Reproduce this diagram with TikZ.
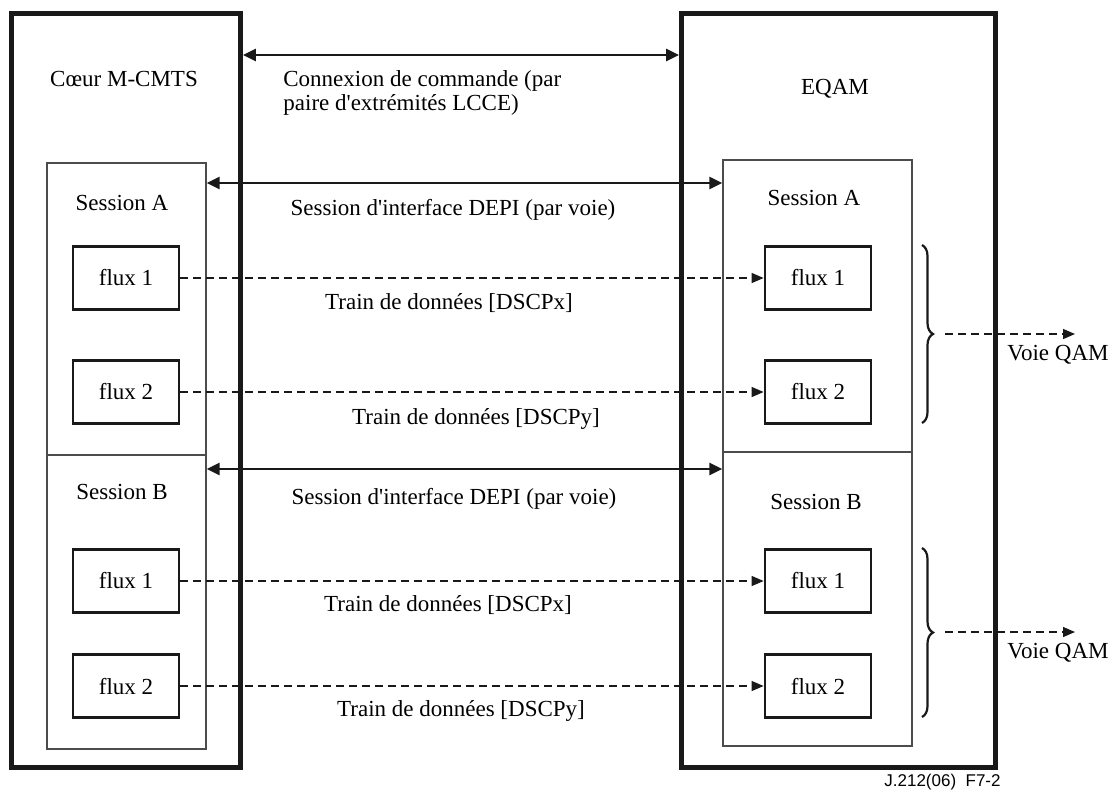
\documentclass[tikz,border=0pt]{standalone}
\usepackage{fontspec}
\setmainfont{Liberation Serif}[Ligatures=TeXOff]
\newfontfamily\figsans{Liberation Sans}
\usetikzlibrary{arrows.meta,decorations.pathreplacing}
\begin{document}
\begin{tikzpicture}[x=0.5pt,y=-0.5pt,
  outerbox/.style={draw=black!90, line width=2.4pt, inner sep=0pt},
  sessbox/.style={draw=black!70, line width=0.7pt, inner sep=0pt},
  fluxbox/.style={draw=black!90, line width=1.4pt, inner sep=0pt, minimum width=53pt, minimum height=31.5pt, font=\fontsize{11.5}{13}\selectfont},
  lbl/.style={inner sep=0pt, font=\fontsize{11.5}{13}\selectfont},
  sarrow/.style={{Triangle[length=6.5pt,width=6pt]}-{Triangle[length=6.5pt,width=6pt]}, line width=1.4pt, draw=black!90},
  darrow/.style={-{Triangle[length=6pt,width=5pt]}, line width=0.7pt, dash pattern=on 4pt off 2.5pt, draw=black!90},
  bracestyle/.style={decorate, decoration={brace, amplitude=5.5pt}, line width=1.1pt, draw=black!90}]
\useasboundingbox (0,0) rectangle (1114,789);

% outer boxes
\node[outerbox, minimum width=114.5pt, minimum height=377pt] (Lout) at (126,390.5) {};
\node[outerbox, minimum width=157pt, minimum height=377pt] (Rout) at (838.5,390.5) {};

% session boxes
\node[sessbox, minimum width=79.5pt, minimum height=146pt] (LsA) at (126.5,309) {};
\node[sessbox, minimum width=79.5pt, minimum height=147pt] (LsB) at (126.5,602) {};
\node[sessbox, minimum width=94.5pt, minimum height=146pt] (RsA) at (817.5,306) {};
\node[sessbox, minimum width=94.5pt, minimum height=147pt] (RsB) at (817.5,599) {};

% titles
\node[lbl, anchor=base] (tcore) at (124,86) {Cœur M-CMTS};
\node[lbl, anchor=base] (teqam) at (835,94) {EQAM};
\node[lbl, anchor=base] (tLsA) at (122,210) {Session A};
\node[lbl, anchor=base] (tRsA) at (814,205) {Session A};
\node[lbl, anchor=base] (tLsB) at (122,499) {Session B};
\node[lbl, anchor=base] (tRsB) at (816,509) {Session B};

% flux boxes
\node[fluxbox] (L1A) at (126,278) {flux 1};
\node[fluxbox] (L2A) at (126,392) {flux 2};
\node[fluxbox] (L1B) at (126,581) {flux 1};
\node[fluxbox] (L2B) at (126,686) {flux 2};
\node[fluxbox] (R1A) at (818,278) {flux 1};
\node[fluxbox] (R2A) at (818,392) {flux 2};
\node[fluxbox] (R1B) at (818,581) {flux 1};
\node[fluxbox] (R2B) at (818,686) {flux 2};

% solid double arrows
\coordinate (yc) at (0,55);
\coordinate (ya) at (0,183);
\coordinate (yb) at (0,469);
\draw[sarrow] (Lout.east |- yc) -- (Rout.west |- yc);
\draw[sarrow] (LsA.east |- ya) -- (RsA.west |- ya);
\draw[sarrow] (LsB.east |- yb) -- (RsB.west |- yb);

\node[lbl, anchor=north west, align=left] (tcmd) at (283,70) {Connexion de commande (par\\[-1pt]paire d'extrémités LCCE)};
\node[lbl, anchor=base] (tdepiA) at (453,215) {Session d'interface DEPI (par voie)};
\node[lbl, anchor=base] (tdepiB) at (454,504) {Session d'interface DEPI (par voie)};

% dashed data trains
\draw[darrow] (L1A) -- (R1A);
\draw[darrow] (L2A) -- (R2A);
\draw[darrow] (L1B) -- (R1B);
\draw[darrow] (L2B) -- (R2B);
\node[lbl, anchor=base] (ttxA) at (449,309) {Train de données [DSCPx]};
\node[lbl, anchor=base] (ttyA) at (476,424) {Train de données [DSCPy]};
\node[lbl, anchor=base] (ttxB) at (448,611) {Train de données [DSCPx]};
\node[lbl, anchor=base] (ttyB) at (461,716) {Train de données [DSCPy]};

% braces and QAM outputs
\coordinate (b1t) at (922,245);
\coordinate (b1b) at (922,423);
\coordinate (b2t) at (922,548);
\coordinate (b2b) at (922,717);
\draw[bracestyle] (b1t) -- (b1b);
\draw[bracestyle] (b2t) -- (b2b);
\coordinate (q1s) at (945,334);
\coordinate (q1e) at (1075,334);
\coordinate (q2s) at (945,632);
\coordinate (q2e) at (1075,632);
\draw[darrow] (q1s) -- (q1e);
\draw[darrow] (q2s) -- (q2e);
\node[lbl, anchor=base west] (tq1) at (1007,360) {Voie QAM};
\node[lbl, anchor=base west] (tq2) at (1007,658) {Voie QAM};

\node[inner sep=0pt, anchor=base east, font=\figsans\fontsize{8.5}{10}\selectfont] (tref) at (1001,786) {J.212(06)\ \ F7-2};
\end{tikzpicture}
\end{document}
